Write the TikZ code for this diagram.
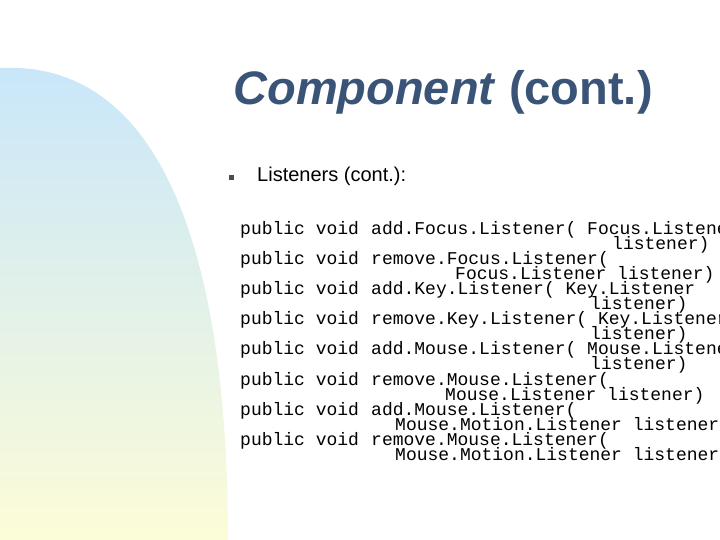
\documentclass[tikz,border=0pt]{standalone}
\usepackage{fontspec}
\setmainfont{Liberation Sans}
\setmonofont{Liberation Mono}
\definecolor{titleblue}{HTML}{3A5478}
\definecolor{skyblue}{HTML}{C8E6FA}
\definecolor{paleyellow}{HTML}{FCFCD8}
\tikzset{
  code/.style={anchor=base west, inner sep=0pt, font=\ttfamily\fontsize{18}{16}\selectfont},
}
\begin{document}
\begin{tikzpicture}[x=1pt,y=-1pt]
\useasboundingbox (0,0) rectangle (720,540);
% background
\shade[top color=skyblue, bottom color=paleyellow]
  (0,540) -- (0,68) .. controls (160,60) and (228,250) .. (228,540) -- cycle;
% title
\node (title) [anchor=base, text=titleblue, font=\bfseries\fontsize{47}{50}\selectfont] at (443,105)
  {\textit{Component} (cont.)};
\node (bullet) [fill=black!70, minimum size=5pt, inner sep=0pt] at (231,178) {};
\node (head) [anchor=base west, inner sep=0pt, font=\fontsize{20}{24}\selectfont] at (257,182) {Listeners (cont.):};
% code lines
\foreach \i/\m in {0/add.Focus.Listener( Focus.Listener,
                   1/remove.Focus.Listener(,
                   2/add.Key.Listener( Key.Listener,
                   3/remove.Key.Listener( Key.Listener,
                   4/add.Mouse.Listener( Mouse.Listener,
                   5/remove.Mouse.Listener(,
                   6/add.Mouse.Listener(,
                   7/remove.Mouse.Listener(}{
  \node (pv\i) [code] at (240,234+30.2*\i) {public void};
  \node (m\i) [code] at (371,234+30.2*\i) {\m};
}
\foreach \i/\x/\m in {0/612/listener),
                      1/455/Focus.Listener listener),
                      2/590/listener),
                      3/590/listener),
                      4/590/listener),
                      5/445/Mouse.Listener listener),
                      6/395/Mouse.Motion.Listener listener),
                      7/395/Mouse.Motion.Listener listener)}{
  \node (c\i) [code] at (\x,249+30.2*\i) {\m};
}
\end{tikzpicture}
\end{document}
